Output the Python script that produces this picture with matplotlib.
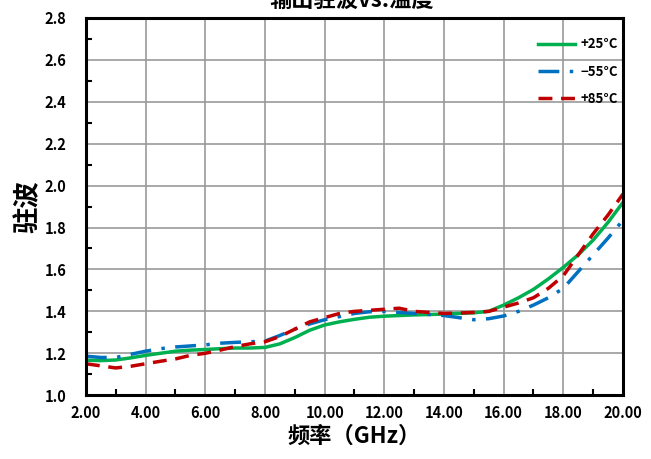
import numpy as np
import matplotlib.pyplot as plt
from matplotlib.ticker import MultipleLocator, FormatStrFormatter

plt.rcParams['font.family'] = ['Noto Sans CJK SC', 'DejaVu Sans']
plt.rcParams['font.weight'] = 'bold'

freq = np.arange(2.0, 20.01, 0.5)
vswr_25 = [1.167, 1.165, 1.168, 1.178, 1.19, 1.20, 1.21, 1.215, 1.218, 1.222,
           1.225, 1.225, 1.228, 1.245, 1.275, 1.31, 1.335, 1.35, 1.362, 1.372,
           1.377, 1.38, 1.383, 1.385, 1.387, 1.39, 1.393, 1.40, 1.43, 1.465,
           1.505, 1.555, 1.61, 1.67, 1.74, 1.825, 1.92]
vswr_m55 = [1.186, 1.18, 1.18, 1.195, 1.21, 1.222, 1.23, 1.235, 1.24, 1.248,
            1.252, 1.255, 1.258, 1.285, 1.315, 1.34, 1.36, 1.375, 1.39, 1.398,
            1.40, 1.395, 1.39, 1.385, 1.38, 1.37, 1.36, 1.365, 1.378, 1.40,
            1.43, 1.465, 1.51, 1.59, 1.67, 1.75, 1.835]
vswr_85 = [1.15, 1.14, 1.13, 1.138, 1.15, 1.162, 1.173, 1.19, 1.20, 1.215,
           1.232, 1.245, 1.255, 1.28, 1.315, 1.35, 1.37, 1.39, 1.40, 1.405,
           1.41, 1.415, 1.40, 1.395, 1.39, 1.392, 1.395, 1.40, 1.42, 1.44,
           1.465, 1.51, 1.57, 1.67, 1.77, 1.86, 1.96]
labels = ['+25°C', '\u221255°C', '+85°C']

fig = plt.figure(figsize=(6.51, 4.59), dpi=100)
ax = fig.add_axes([0.132, 0.139, 0.825, 0.822])

ax.plot(freq, vswr_25, color='#00B050', lw=2.5, label=labels[0])
ax.plot(freq, vswr_m55, color='#0070C0', lw=2.5, dashes=(6, 3, 1, 3), label=labels[1])
ax.plot(freq, vswr_85, color='#C00000', lw=2.5, dashes=(4, 2.5), label=labels[2])

ax.set_xlim(2, 20)
ax.set_ylim(1.0, 2.8)
ax.xaxis.set_major_locator(MultipleLocator(2))
ax.xaxis.set_minor_locator(MultipleLocator(1))
ax.yaxis.set_major_locator(MultipleLocator(0.2))
ax.yaxis.set_minor_locator(MultipleLocator(0.1))
ax.xaxis.set_major_formatter(FormatStrFormatter('%.2f'))
ax.yaxis.set_major_formatter(FormatStrFormatter('%.1f'))
ax.grid(True, which='major', color='#999999', lw=1.2)
ax.tick_params(which='both', direction='in', labelsize=10.5, width=1.5)
ax.tick_params(axis='x', which='major', length=0, pad=7)
ax.tick_params(axis='y', which='major', length=0, pad=14)
ax.tick_params(which='minor', length=4)
for s in ax.spines.values():
    s.set_linewidth(2.2)
    s.set_color('black')

ax.set_xlabel('频率（GHz）', fontsize=16, fontweight='bold', labelpad=3)
ax.set_ylabel('驻波', fontsize=19, fontweight='bold', labelpad=2)
fig.text(0.54, 1.0, '输出驻波vs.温度', fontsize=16, fontweight='bold', ha='center', va='center')

ax.legend(loc='upper right', frameon=False, handlelength=2.8, handletextpad=0.4,
          labelspacing=1.0, bbox_to_anchor=(1.012, 0.98), prop={'weight': 'bold', 'size': 9.5})

fig.savefig('out.png', dpi=100)
